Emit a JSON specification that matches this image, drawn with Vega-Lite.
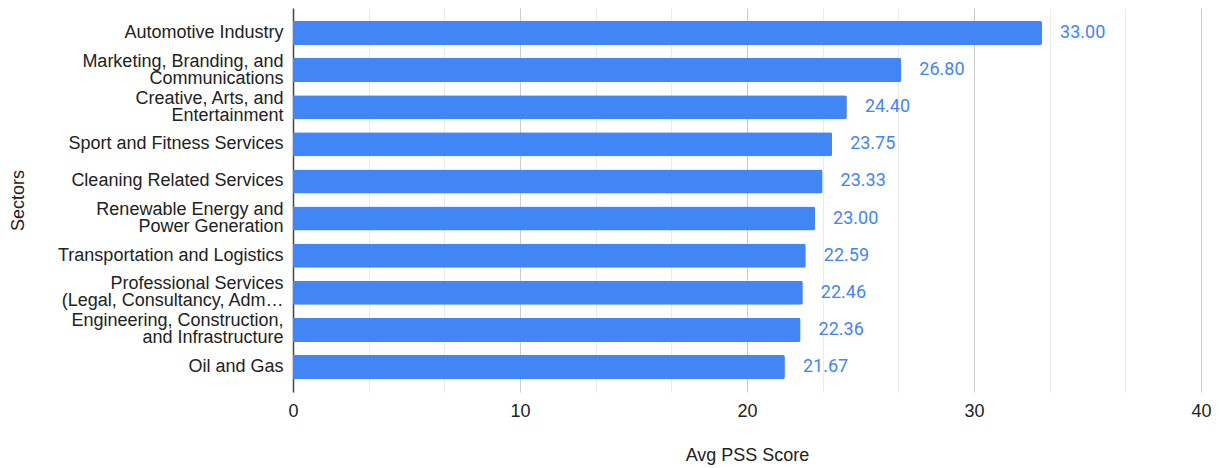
{
  "$schema": "https://vega.github.io/schema/vega-lite/v6.json",
  "autosize": "none",
  "padding": {"left": 293, "top": 8, "right": 19, "bottom": 76},
  "width": 908,
  "height": 384,
  "background": "#ffffff",
  "data": {
    "values": [
      {"sector": "Automotive Industry", "score": 33.00},
      {"sector": "Marketing, Branding, and\nCommunications", "score": 26.80},
      {"sector": "Creative, Arts, and\nEntertainment", "score": 24.40},
      {"sector": "Sport and Fitness Services", "score": 23.75},
      {"sector": "Cleaning Related Services", "score": 23.33},
      {"sector": "Renewable Energy and\nPower Generation", "score": 23.00},
      {"sector": "Transportation and Logistics", "score": 22.59},
      {"sector": "Professional Services\n(Legal, Consultancy, Adm…", "score": 22.46},
      {"sector": "Engineering, Construction,\nand Infrastructure", "score": 22.36},
      {"sector": "Oil and Gas", "score": 21.67}
    ]
  },
  "config": {
    "view": {"stroke": null},
    "font": "Liberation Sans",
    "axis": {
      "labelFont": "Liberation Sans",
      "titleFont": "Liberation Sans",
      "labelColor": "#222222",
      "titleColor": "#222222",
      "labelFontSize": 18,
      "titleFontSize": 18,
      "titleFontWeight": "normal"
    }
  },
  "encoding": {
    "y": {
      "field": "sector",
      "type": "nominal",
      "sort": null,
      "title": "Sectors",
      "scale": {"paddingInner": 0.353, "paddingOuter": 0.35},
      "axis": {
        "labelExpr": "split(datum.label, '\\n')",
        "labelLineHeight": 17,
        "labelOffset": {"condition": {"test": "indexof(datum.label, '\\n') >= 0", "value": -8.5}, "value": 0},
        "labelPadding": 10,
        "labelLimit": 300,
        "ticks": false,
        "domain": true,
        "domainColor": "#444444",
        "domainWidth": 1.5,
        "grid": false,
        "titleX": -275,
        "titleY": 192,
        "titleAngle": -90,
        "titleBaseline": "middle",
        "titleAlign": "center"
      }
    }
  },
  "layer": [
    {
      "mark": {"type": "bar", "color": "#4285f4", "cornerRadiusEnd": 2},
      "encoding": {
        "x": {
          "field": "score",
          "type": "quantitative",
          "title": "Avg PSS Score",
          "scale": {"domain": [0, 40], "nice": false, "zero": true},
          "axis": {
            "values": [0, 3.3333, 6.6667, 10, 13.3333, 16.6667, 20, 23.3333, 26.6667, 30, 33.3333, 36.6667, 40],
            "labelExpr": "datum.value % 10 === 0 ? datum.label : ''",
            "grid": true,
            "gridColor": {"condition": {"test": "datum.value % 10 === 0", "value": "#cccccc"}, "value": "#ebebeb"},
            "gridWidth": 1,
            "domain": false,
            "ticks": false,
            "labelPadding": 10,
            "labelFlush": false,
            "titleY": 63,
            "titleBaseline": "middle"
          }
        }
      }
    },
    {
      "mark": {"type": "text", "align": "left", "baseline": "middle", "dx": 18, "font": "Roboto", "fontSize": 18, "color": "#4285f4"},
      "encoding": {
        "x": {"field": "score", "type": "quantitative"},
        "text": {"field": "score", "type": "quantitative", "format": ".2f"}
      }
    }
  ]
}
